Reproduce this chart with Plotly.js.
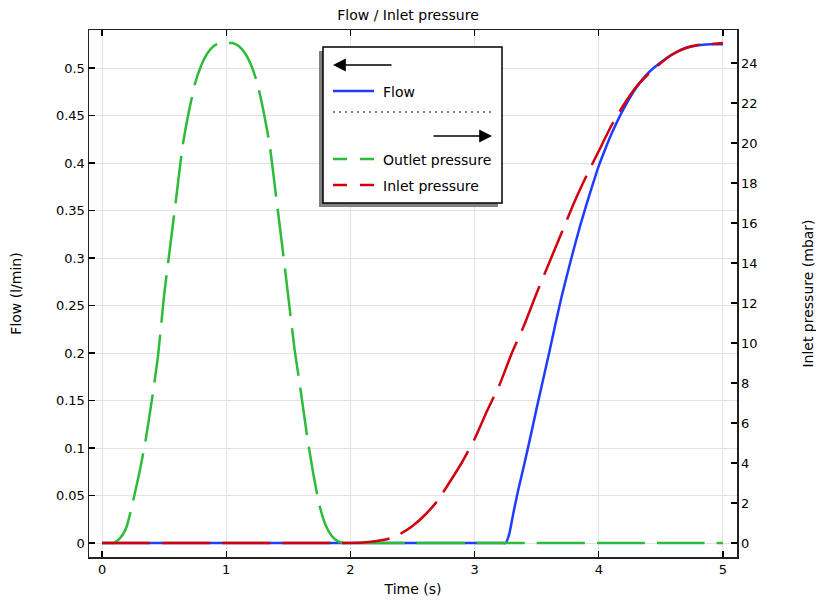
<!DOCTYPE html>
<html>
<head>
<meta charset="utf-8">
<script src="https://cdn.plot.ly/plotly-3.0.1.min.js"></script>
<style>html,body{margin:0;padding:0;background:#fff;}#chart{width:816px;height:600px;}</style>
</head>
<body>
<div id="chart"></div>
<script>
// ---- data ----
const flowName = "Flow";
const outletName = "Outlet pressure";
const inletName = "Inlet pressure";

const flowTime = [0, 0.5, 1.0, 1.5, 2.0, 2.5, 3.0, 3.15, 3.22, 3.25, 3.28, 3.31, 3.35, 3.4, 3.45, 3.5, 3.55, 3.6, 3.65, 3.7, 3.75, 3.8, 3.85, 3.9, 3.95, 4.0, 4.05, 4.1, 4.2, 4.3, 4.4, 4.5, 4.6, 4.7, 4.8, 4.9, 5.0];
const flowValue = [0, 0, 0, 0, 0, 0, 0, 0, 0, 0, 0.01, 0.03, 0.055, 0.083, 0.112, 0.142, 0.171, 0.2, 0.23, 0.259, 0.285, 0.31, 0.334, 0.356, 0.377, 0.397, 0.414, 0.43, 0.457, 0.479, 0.495, 0.506, 0.515, 0.521, 0.524, 0.525, 0.525];

const outletTime = [0, 0.05, 0.09, 0.13, 0.17, 0.2, 0.25, 0.3, 0.35, 0.4, 0.45, 0.5, 0.55, 0.6, 0.65, 0.7, 0.75, 0.8, 0.85, 0.9, 0.95, 1.0, 1.05, 1.1, 1.15, 1.2, 1.25, 1.3, 1.35, 1.4, 1.45, 1.5, 1.55, 1.6, 1.65, 1.7, 1.75, 1.8, 1.85, 1.9, 1.94, 2.0, 2.5, 3.0, 3.5, 4.0, 4.5, 5.0];
const outletValue = [0, 0, 0, 0.15, 0.45, 0.85, 2.1, 3.5, 5.1, 7.1, 9.3, 12.4, 14.9, 17.4, 19.9, 21.6, 23.0, 23.9, 24.5, 24.85, 25, 25, 25, 24.85, 24.5, 23.9, 23.0, 21.6, 19.9, 17.4, 14.9, 12.3, 9.7, 7.6, 5.4, 3.5, 1.9, 0.9, 0.35, 0.08, 0, 0, 0, 0, 0, 0, 0, 0];

const inletTime = [0, 0.5, 1.0, 1.5, 1.9, 2.0, 2.1, 2.2, 2.3, 2.4, 2.5, 2.6, 2.7, 2.8, 2.9, 3.0, 3.1, 3.2, 3.3, 3.4, 3.5, 3.6, 3.7, 3.8, 3.9, 4.0, 4.1, 4.2, 4.3, 4.4, 4.5, 4.6, 4.7, 4.8, 4.9, 5.0];
const inletValue = [0, 0, 0, 0, 0, 0, 0.02, 0.09, 0.2, 0.45, 0.85, 1.4, 2.1, 3.05, 4.05, 5.2, 6.6, 7.9, 9.5, 10.9, 12.5, 14.0, 15.5, 17.0, 18.35, 19.6, 20.85, 21.9, 22.8, 23.45, 24.0, 24.45, 24.75, 24.9, 24.95, 25.0];

const xTicks = [0, 1, 2, 3, 4, 5];
const yTicks = [0, 0.05, 0.1, 0.15, 0.2, 0.25, 0.3, 0.35, 0.4, 0.45, 0.5];
const yTickText = ["0", "0.05", "0.1", "0.15", "0.2", "0.25", "0.3", "0.35", "0.4", "0.45", "0.5"];
const y2Ticks = [0, 2, 4, 6, 8, 10, 12, 14, 16, 18, 20, 22, 24];

// ---- styling ----
const FONT = "DejaVu Sans, sans-serif";
const BLUE = "#1f3dff", GREEN = "#2dbb3a", RED = "#d0000f";
const L = 89, R = 737, T = 30, B = 557;
const W = 816, H = 600;
const px = x => (x - L) / (R - L);
const py = y => (B - y) / (B - T);

const traces = [
  {x: flowTime, y: flowValue, name: flowName, type: "scatter", mode: "lines", yaxis: "y",
   line: {color: BLUE, width: 2.5, shape: "spline", smoothing: 0.5}},
  {x: outletTime, y: outletValue, name: outletName, type: "scatter", mode: "lines", yaxis: "y2",
   line: {color: GREEN, width: 2.5, dash: "48px,12px", shape: "spline", smoothing: 0.5}},
  {x: inletTime, y: inletValue, name: inletName, type: "scatter", mode: "lines", yaxis: "y2",
   line: {color: RED, width: 2.5, dash: "48px,12px", shape: "spline", smoothing: 0.5}}
];

const shapes = [
  // legend shadow and box
  {type: "rect", xref: "paper", yref: "paper", x0: px(319), x1: px(498), y0: py(51), y1: py(207),
   fillcolor: "#808080", line: {width: 0}, layer: "above"},
  {type: "rect", xref: "paper", yref: "paper", x0: px(323), x1: px(502), y0: py(47), y1: py(203),
   fillcolor: "#ffffff", line: {color: "#000", width: 1.5}, layer: "above"},
  // legend samples
  {type: "line", xref: "paper", yref: "paper", x0: px(333), x1: px(374), y0: py(91), y1: py(91),
   line: {color: BLUE, width: 2.5}, layer: "above"},
  {type: "line", xref: "paper", yref: "paper", x0: px(333), x1: px(493), y0: py(112), y1: py(112),
   line: {color: "#000", width: 1.2, dash: "2px,4px"}, layer: "above"},
  {type: "line", xref: "paper", yref: "paper", x0: px(333), x1: px(374), y0: py(159), y1: py(159),
   line: {color: GREEN, width: 2.5, dash: "14px,13px"}, layer: "above"},
  {type: "line", xref: "paper", yref: "paper", x0: px(333), x1: px(374), y0: py(185), y1: py(185),
   line: {color: RED, width: 2.5, dash: "14px,13px"}, layer: "above"}
];

const annFont = {family: FONT, size: 14, color: "#000"};
const annotations = [
  {xref: "paper", yref: "paper", x: px(333), y: py(65), ax: 60, ay: 0, text: "", showarrow: true,
   arrowhead: 2, arrowsize: 1.6, arrowwidth: 1.6, arrowcolor: "#000"},
  {xref: "paper", yref: "paper", x: px(492), y: py(136), ax: -60, ay: 0, text: "", showarrow: true,
   arrowhead: 2, arrowsize: 1.6, arrowwidth: 1.6, arrowcolor: "#000"},
  {xref: "paper", yref: "paper", x: px(381), y: py(92), text: flowName, showarrow: false,
   xanchor: "left", yanchor: "middle", font: annFont},
  {xref: "paper", yref: "paper", x: px(381), y: py(160), text: outletName, showarrow: false,
   xanchor: "left", yanchor: "middle", font: annFont},
  {xref: "paper", yref: "paper", x: px(381), y: py(186), text: inletName, showarrow: false,
   xanchor: "left", yanchor: "middle", font: annFont}
];

const layout = {
  width: W, height: H,
  margin: {l: L, r: W - R, t: T, b: H - B},
  paper_bgcolor: "#fff", plot_bgcolor: "#fff",
  font: {family: FONT, size: 13, color: "#000"},
  showlegend: false,
  title: {text: "Flow / Inlet pressure", font: {family: FONT, size: 14, color: "#000"},
          x: 0.5, xanchor: "center", y: 1 - 15 / H, yanchor: "middle"},
  xaxis: {range: [-0.105, 5.113], tickvals: xTicks, ticks: "inside", ticklen: 6, tickwidth: 1.2,
          tickcolor: "#000", showline: true, linecolor: "#222", linewidth: 1.5, mirror: "ticks",
          showgrid: true, gridcolor: "#e2e2e2", gridwidth: 1, zeroline: false,
          tickfont: {family: FONT, size: 13}, automargin: false,
          title: {text: "Time (s)", font: {family: FONT, size: 14}, standoff: 8}},
  yaxis: {range: [-0.0147, 0.54], tickvals: yTicks, ticktext: yTickText, ticks: "inside", ticklen: 6,
          tickwidth: 1.2, tickcolor: "#000", showline: true, linecolor: "#222", linewidth: 1.5,
          showgrid: true, gridcolor: "#e2e2e2", gridwidth: 1, zeroline: false,
          tickfont: {family: FONT, size: 13}, automargin: false,
          title: {text: "Flow (l/min)", font: {family: FONT, size: 14}, standoff: 31}},
  yaxis2: {range: [-0.7, 25.65], tickvals: y2Ticks, overlaying: "y", side: "right", ticks: "inside",
           ticklen: 6, tickwidth: 1.2, tickcolor: "#000", showline: true, linecolor: "#222",
           linewidth: 1.5, showgrid: false, zeroline: false, tickfont: {family: FONT, size: 13},
           automargin: false,
           title: {text: "Inlet pressure (mbar)", font: {family: FONT, size: 14}, standoff: 48}},
  shapes: shapes,
  annotations: annotations
};

Plotly.newPlot("chart", traces, layout, {displayModeBar: false, staticPlot: true});
</script>
</body>
</html>
